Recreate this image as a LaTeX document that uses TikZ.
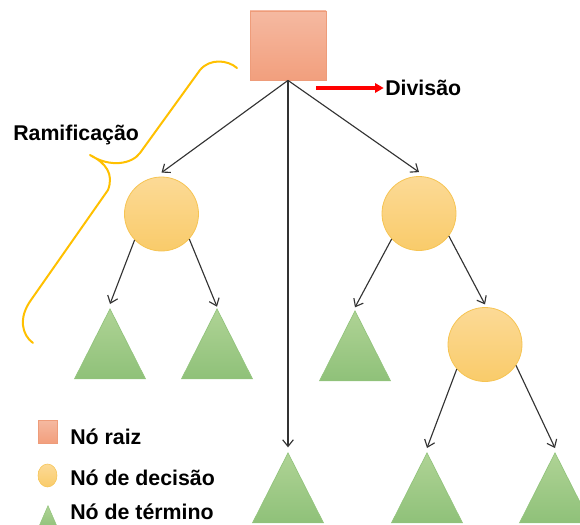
\documentclass[tikz,border=0pt]{standalone}
\usepackage{fontspec}
\setmainfont{Liberation Sans}
\usetikzlibrary{shapes.geometric,arrows.meta}
\definecolor{rootTop}{HTML}{F5B9A1}
\definecolor{rootBot}{HTML}{F29F7D}
\definecolor{rootLine}{HTML}{EE9C7A}
\definecolor{decTop}{HTML}{FCDA96}
\definecolor{decBot}{HTML}{F9CB6A}
\definecolor{decLine}{HTML}{F6C453}
\definecolor{leafTop}{HTML}{AFD395}
\definecolor{leafBot}{HTML}{8FC179}
\definecolor{leafLine}{HTML}{93C47D}
\definecolor{braceCol}{HTML}{FFC000}
\definecolor{edgeCol}{HTML}{333333}
\tikzset{
  rootbox/.style={rectangle, minimum width=57pt, minimum height=51.75pt, inner sep=0pt,
    top color=rootTop, bottom color=rootBot, draw=rootLine, line width=0.6pt},
  decnode/.style={circle, minimum size=55.5pt, inner sep=0pt,
    top color=decTop, bottom color=decBot, draw=decLine, line width=0.6pt},
  leafnode/.style={isosceles triangle, isosceles triangle stretches, shape border rotate=90,
    minimum width=53.25pt, minimum height=52.5pt, inner sep=0pt, anchor=apex,
    top color=leafTop, bottom color=leafBot, draw=leafLine, line width=0.5pt},
  edge/.style={draw=edgeCol, line width=0.85pt, -{Straight Barb[length=5pt,width=8pt]}},
  lbl/.style={font=\fontsize{16}{19}\selectfont\bfseries, inner sep=0pt, anchor=west},
}
\begin{document}
\begin{tikzpicture}[x=0.75pt,y=-0.75pt]
\useasboundingbox (0,0) rectangle (580,524);
\clip (0,0) rectangle (580,524);
% nodes
\node[rootbox] (root) at (288,45.5) {};
\node[decnode] (c1) at (161.5,214) {};
\node[decnode] (c2) at (419,213.5) {};
\node[decnode] (c3) at (485,344.5) {};
\node[leafnode] (t1) at (110,308) {};
\node[leafnode] (t2) at (217,308) {};
\node[leafnode] (t3) at (355,310) {};
\node[leafnode] (t4) at (288,452) {};
\node[leafnode] (t5) at (427,452) {};
\node[leafnode] (t6) at (555,452) {};
% edges
\draw[edge] (root.south) -- ([yshift=3pt]c1.north);
\draw[edge] (root.south) -- ([yshift=3pt]c2.north);
\draw[edge] (root.south) -- ([yshift=3.5pt]t4.apex);
\draw[edge] (c1.224) -- ([yshift=3pt]t1.apex);
\draw[edge] (c1.318) -- ([yshift=1pt]t2.apex);
\draw[edge] (c2.223) -- ([yshift=2pt]t3.apex);
\draw[edge] (c2.323) -- ([yshift=2pt]c3.north);
\draw[edge] (c3.221) -- ([yshift=3pt]t5.apex);
\draw[edge] (c3.326) -- ([yshift=3pt]t6.apex);
% division arrow
\coordinate (dA) at (316,88);
\node[lbl] (div) at (385,88) {Divisão};
\draw[red, line width=2.3pt, -{Triangle[length=6.5pt,width=7pt]}] (dA) -- ([xshift=-1pt]div.west);
% brace
\draw[braceCol, line width=1.5pt, line cap=round, line join=round]
  (237,68) .. controls (228,60) and (210,58) .. (200,70)
  -- (140,153)
  .. controls (132,164) and (110,168) .. (90,155)
  .. controls (106,163) and (114,174) .. (108,190)
  -- (31,300)
  .. controls (18,318) and (22,335) .. (33,343);
\node[lbl] (ram) at (13,135) {Ramificação};
% legend
\node[rectangle, minimum width=14.25pt, minimum height=17.25pt, inner sep=0pt,
  top color=rootTop, bottom color=rootBot, draw=rootLine, line width=0.4pt] (lg1) at (47.5,431.5) {};
\node[ellipse, minimum width=14.25pt, minimum height=17.25pt, inner sep=0pt,
  top color=decTop, bottom color=decBot, draw=decLine, line width=0.4pt] (lg2) at (47.5,475.5) {};
\node[isosceles triangle, isosceles triangle stretches, shape border rotate=90,
  minimum width=15pt, minimum height=17.25pt, inner sep=0pt, anchor=apex,
  top color=leafTop, bottom color=leafBot, draw=leafLine, line width=0.4pt] (lg3) at (48,505) {};
\node[lbl] (l1) at (70,437) {Nó raiz};
\node[lbl] (l2) at (70,478) {Nó de decisão};
\node[lbl] (l3) at (70,512) {Nó de término};
\end{tikzpicture}
\end{document}
